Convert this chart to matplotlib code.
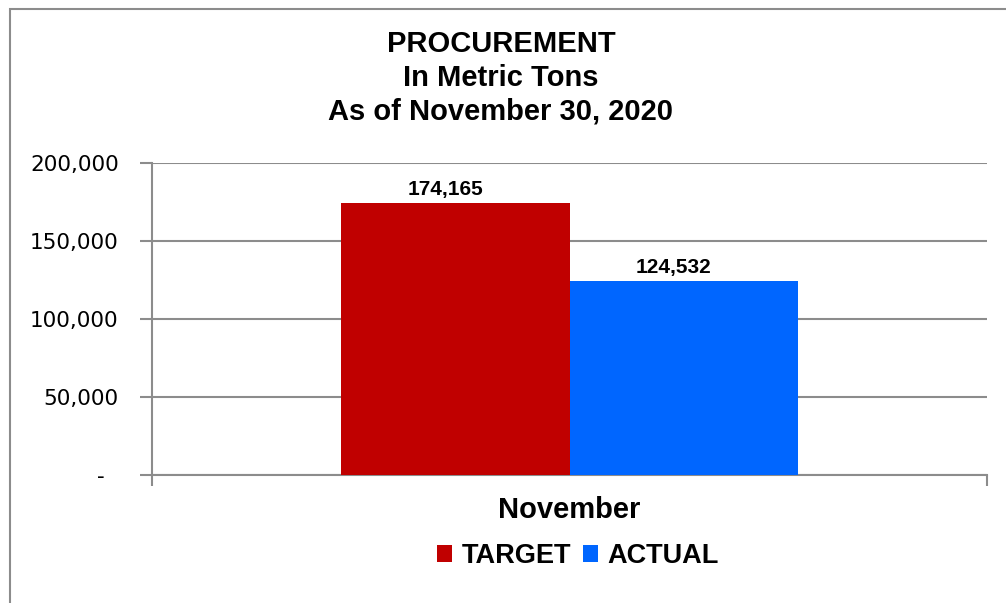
import numpy as np
import matplotlib.pyplot as plt
import matplotlib.patches as patches
from matplotlib.ticker import FuncFormatter

# Data
category = 'November'
series = ['TARGET', 'ACTUAL']
values = [174165, 124532]
colors = ['#C00000', '#0066FF']

GRID = '#8C8C8C'

fig = plt.figure(figsize=(10.06, 6.03), dpi=100)
ax = fig.add_axes([152 / 1006, 1 - 475 / 603, 835 / 1006, 312 / 603])

# Bars side by side around the single category
width = 0.274
offsets = [-width / 2, width / 2]
for name, val, col, off in zip(series, values, colors, offsets):
    ax.bar(off, val, width=width, color=col, label=name, zorder=3)
    ax.text(off - 0.012, val + 2500, '{:,}'.format(val), ha='center',
            va='bottom', fontsize=15, fontweight='bold',
            family='Liberation Sans', zorder=4)

ax.set_xlim(-0.5, 0.5)
ax.set_ylim(0, 200000)
ax.set_yticks(np.arange(0, 200001, 50000))
ax.yaxis.set_major_formatter(FuncFormatter(
    lambda v, p: '-  ' if v == 0 else '{:,.0f}'.format(v)))
ax.set_xticks([-0.5, 0.5])
ax.set_xticklabels(['', ''])

ax.grid(axis='y', color=GRID, linewidth=1.5, zorder=0)
for s in ['top', 'right']:
    ax.spines[s].set_visible(False)
for s in ['left', 'bottom']:
    ax.spines[s].set_color(GRID)
    ax.spines[s].set_linewidth(1.5)
ax.tick_params(axis='y', length=9, width=1.5, color=GRID, pad=15,
               labelsize=15.5)
ax.tick_params(axis='x', length=8, width=1.5, color=GRID)

# Title block
fig.text(501 / 1006, 1 - 78 / 603,
         'PROCUREMENT\nIn Metric Tons\nAs of November 30, 2020',
         ha='center', va='center', fontsize=21, fontweight='bold',
         family='Liberation Sans', linespacing=1.27)

# Category label
ax.text(0.5, -35 / 312, category, transform=ax.transAxes, ha='center',
        va='center', fontsize=21, fontweight='bold', family='Liberation Sans')

leg = fig.legend(loc='center', bbox_to_anchor=(578 / 1006, 1 - 556 / 603),
                 ncol=2, frameon=False, handlelength=0.55, handleheight=0.55,
                 handletextpad=0.35, columnspacing=0.45,
                 prop={'family': 'Liberation Sans', 'weight': 'bold',
                       'size': 19.5})

# Outer chart border
fig.patches.append(patches.Rectangle(
    (10 / 1006, -0.05), 1.1, 1 - 9 / 603 + 0.05, transform=fig.transFigure,
    fill=False, edgecolor=GRID, linewidth=1.5))

fig.savefig('out.png', dpi=100)
